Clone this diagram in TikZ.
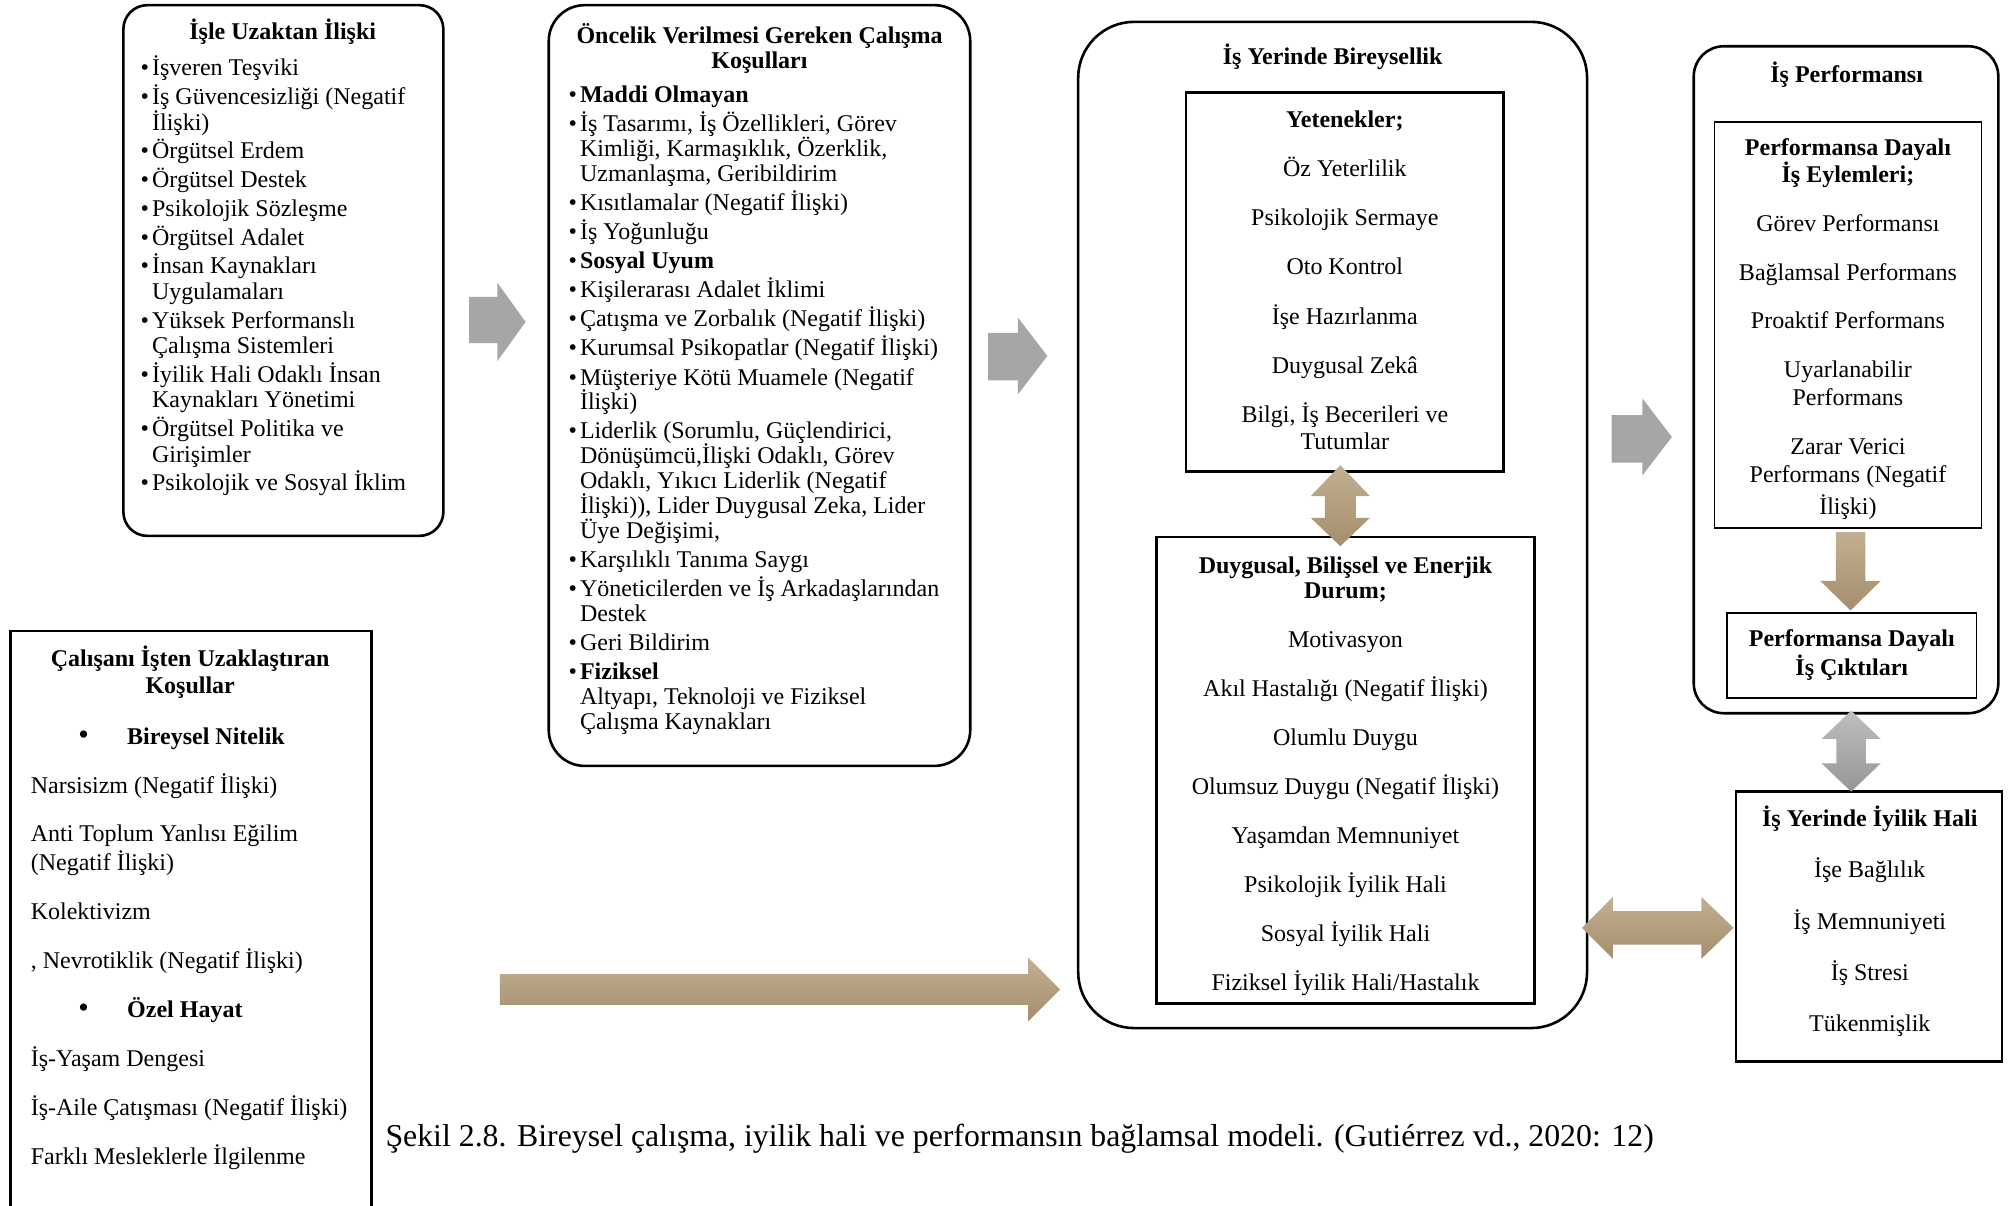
\documentclass[tikz,border=0pt]{standalone}
\usepackage{fontspec}
\setmainfont{Liberation Serif}
\usetikzlibrary{fit}
\definecolor{tanL}{RGB}{194,176,146}
\definecolor{tanD}{RGB}{164,142,108}
\definecolor{grayA}{RGB}{166,166,166}
\definecolor{grayL}{RGB}{190,190,190}
\definecolor{grayD}{RGB}{150,150,150}
\newcommand\bul{\textbullet\hspace{1.5pt}}
\newcommand\ind{\hphantom{\bul}}
\newcommand\li[1]{\hbox{#1}}
\newcommand\ci[1]{\hbox to 0pt{\hss#1\hss}}
\newcommand\sk[1]{\vskip#1\relax}
\newcommand\blk[2]{\vtop{\baselineskip=#1\lineskiplimit=-\maxdimen\lineskip=0pt\relax #2}}
\newcommand\bigbul{\makebox[24.4pt][l]{\fontsize{15}{15}\selectfont\textbullet}}
\begin{document}
\begin{tikzpicture}[x=0.64254pt,y=-0.64254pt,
  every node/.style={inner sep=0pt,outer sep=0pt,font=\fontsize{12}{14}\selectfont},
  sqbox/.style={draw,line width=1.3pt},
  rbox/.style={draw,line width=1.3pt,rounded corners=#1},
  garrow/.style={fill=grayA},
  tarrow/.style={top color=tanL,bottom color=tanD},
  gdarrow/.style={top color=grayL,bottom color=grayD}]
\useasboundingbox (0,0) rectangle (1568,938);
\fill[white] (0,0) rectangle (1568,938);

% ---------- frames ----------
\node[rbox=12pt, fit={(96,4)(345,417)}] (b1) {};
\node[rbox=18pt, fit={(427,4)(755,596)}] (b2) {};
\coordinate (b3bl) at (8,945);
\coordinate (b3tl) at (8,491);
\coordinate (b3tr) at (289,491);
\coordinate (b3br) at (289,945);
\draw[sqbox] (b3bl) -- (b3tl) -- (b3tr) -- (b3br);
\node[rbox=28pt, fit={(839,17)(1235,800)}] (b4) {};
\node[sqbox, fit={(923,72)(1170,367)}] (b4a) {};
\node[sqbox, fit={(900,418)(1194,781)}] (b4b) {};
\node[rbox=15pt, fit={(1318,36)(1555,555)}] (b5) {};
\node[draw, line width=0.7pt, fit={(1334,95)(1542,411)}] (b5a) {};
\node[draw, line width=0.9pt, fit={(1344,477)(1538,543)}] (b5b) {};
\node[sqbox, fit={(1351,616)(1558,826)}] (b6) {};

% ---------- block arrows ----------
\fill[garrow] (365,231) -- (387,231) -- (387,220) -- (409,250.5) -- (387,281) -- (387,267) -- (365,267) -- cycle;
\fill[garrow] (769,259) -- (792,259) -- (792,247) -- (815,277) -- (792,307) -- (792,296) -- (769,296) -- cycle;
\fill[garrow] (1254,323) -- (1278,323) -- (1278,310) -- (1301,340) -- (1278,370) -- (1278,360) -- (1254,360) -- cycle;
\path[tarrow] (389,758) -- (800,758) -- (800,745) -- (825,770) -- (800,795) -- (800,782) -- (389,782) -- cycle;
\path[tarrow] (1043,362) -- (1066,386) -- (1055,386) -- (1055,403) -- (1066,403) -- (1043,425) -- (1020,403) -- (1031,403) -- (1031,386) -- (1020,386) -- cycle;
\path[tarrow] (1428.5,414) -- (1451.5,414) -- (1451.5,452) -- (1463.5,452) -- (1440,475) -- (1416.5,452) -- (1428.5,452) -- cycle;
\path[gdarrow] (1440.5,553) -- (1463.5,575) -- (1452,575) -- (1452,594) -- (1463.5,594) -- (1440.5,616) -- (1417.5,594) -- (1429,594) -- (1429,575) -- (1417.5,575) -- cycle;
\path[tarrow] (1231,722) -- (1255,698) -- (1255,709) -- (1324,709) -- (1324,698) -- (1349,722) -- (1324,746) -- (1324,735) -- (1255,735) -- (1255,746) -- cycle;

% ---------- box 1 ----------
\node[anchor=base] (b1t) at (220,31) {\bfseries İşle Uzaktan İlişki};
\node[anchor=base west] (b1l) at (109.5,59) {\blk{12.72pt}{%
\li{\bul İşveren Teşviki}\sk{1.67pt}
\li{\bul İş Güvencesizliği (Negatif}
\li{\ind İlişki)}\sk{1.67pt}
\li{\bul Örgütsel Erdem}\sk{1.67pt}
\li{\bul Örgütsel Destek}\sk{1.67pt}
\li{\bul Psikolojik Sözleşme}\sk{1.67pt}
\li{\bul Örgütsel Adalet}\sk{1.67pt}
\li{\bul İnsan Kaynakları}
\li{\ind Uygulamaları}\sk{1.67pt}
\li{\bul Yüksek Performanslı}
\li{\ind Çalışma Sistemleri}\sk{1.67pt}
\li{\bul İyilik Hali Odaklı İnsan}
\li{\ind Kaynakları Yönetimi}\sk{1.67pt}
\li{\bul Örgütsel Politika ve}
\li{\ind Girişimler}\sk{1.67pt}
\li{\bul Psikolojik ve Sosyal İklim}}};

% ---------- box 2 ----------
\node[anchor=base] (b2t) at (591,34) {\blk{12.2pt}{\ci{\bfseries Öncelik Verilmesi Gereken Çalışma}\ci{\bfseries Koşulları}}};
\node[anchor=base west] (b2l) at (442.5,80) {\blk{12.47pt}{%
\li{\bul\textbf{Maddi Olmayan}}\sk{2.05pt}
\li{\bul İş Tasarımı, İş Özellikleri, Görev}
\li{\ind Kimliği, Karmaşıklık, Özerklik,}
\li{\ind Uzmanlaşma, Geribildirim}\sk{2.05pt}
\li{\bul Kısıtlamalar (Negatif İlişki)}\sk{2.05pt}
\li{\bul İş Yoğunluğu}\sk{2.05pt}
\li{\bul\textbf{Sosyal Uyum}}\sk{2.05pt}
\li{\bul Kişilerarası Adalet İklimi}\sk{2.05pt}
\li{\bul Çatışma ve Zorbalık (Negatif İlişki)}\sk{2.05pt}
\li{\bul Kurumsal Psikopatlar (Negatif İlişki)}\sk{2.05pt}
\li{\bul Müşteriye Kötü Muamele (Negatif}
\li{\ind İlişki)}\sk{2.05pt}
\li{\bul Liderlik (Sorumlu, Güçlendirici,}
\li{\ind Dönüşümcü,İlişki Odaklı, Görev}
\li{\ind Odaklı, Yıkıcı Liderlik (Negatif}
\li{\ind İlişki)), Lider Duygusal Zeka, Lider}
\li{\ind Üye Değişimi,}\sk{2.05pt}
\li{\bul Karşılıklı Tanıma Saygı}\sk{2.05pt}
\li{\bul Yöneticilerden ve İş Arkadaşlarından}
\li{\ind Destek}\sk{2.05pt}
\li{\bul Geri Bildirim}\sk{2.05pt}
\li{\bul\textbf{Fiziksel}}
\li{\ind Altyapı, Teknoloji ve Fiziksel}
\li{\ind Çalışma Kaynakları}}};

% ---------- box 3 ----------
\node[anchor=base] (b3t) at (148,519) {\blk{13.5pt}{\ci{\bfseries Çalışanı İşten Uzaklaştıran}\ci{\bfseries Koşullar}}};
\node[anchor=base west] (b3l) at (24,579) {\blk{14.14pt}{%
\li{\hspace{23.8pt}\bigbul\textbf{Bireysel Nitelik}}\sk{10.34pt}
\li{Narsisizm (Negatif İlişki)}\sk{10.34pt}
\li{Anti Toplum Yanlısı Eğilim}
\li{(Negatif İlişki)}\sk{10.34pt}
\li{Kolektivizm}\sk{10.34pt}
\li{, Nevrotiklik (Negatif İlişki)}\sk{10.34pt}
\li{\hspace{23.8pt}\bigbul\textbf{Özel Hayat}}\sk{10.34pt}
\li{İş-Yaşam Dengesi}\sk{10.34pt}
\li{İş-Aile Çatışması (Negatif İlişki)}\sk{10.34pt}
\li{Farklı Mesleklerle İlgilenme}}};

% ---------- box 4 ----------
\node[anchor=base] (b4t) at (1037,50) {\bfseries İş Yerinde Bireysellik};
\node[anchor=base] (b4at) at (1046.5,99) {\blk{13.49pt}{%
\ci{\bfseries Yetenekler;}\sk{11.12pt}
\ci{Öz Yeterlilik}\sk{11.12pt}
\ci{Psikolojik Sermaye}\sk{11.12pt}
\ci{Oto Kontrol}\sk{11.12pt}
\ci{İşe Hazırlanma}\sk{11.12pt}
\ci{Duygusal Zekâ}\sk{11.12pt}
\ci{Bilgi, İş Becerileri ve}
\ci{Tutumlar}}};
\node[anchor=base] (b4bt) at (1047,446) {\blk{12.85pt}{%
\ci{\bfseries Duygusal, Bilişsel ve Enerjik}
\ci{\bfseries Durum;}\sk{11.6pt}
\ci{Motivasyon}\sk{11.6pt}
\ci{Akıl Hastalığı (Negatif İlişki)}\sk{11.6pt}
\ci{Olumlu Duygu}\sk{11.6pt}
\ci{Olumsuz Duygu (Negatif İlişki)}\sk{11.6pt}
\ci{Yaşamdan Memnuniyet}\sk{11.6pt}
\ci{Psikolojik İyilik Hali}\sk{11.6pt}
\ci{Sosyal İyilik Hali}\sk{11.6pt}
\ci{Fiziksel İyilik Hali/Hastalık}}};

% ---------- box 5 ----------
\node[anchor=base] (b5t) at (1437,64) {\bfseries İş Performansı};
\node[anchor=base] (b5at) at (1438,121) {\blk{14.1pt}{%
\ci{\bfseries Performansa Dayalı}\sk{-0.6pt}
\ci{\bfseries İş Eylemleri;}\sk{10.3pt}
\ci{Görev Performansı}\sk{10.3pt}
\ci{Bağlamsal Performans}\sk{10.3pt}
\ci{Proaktif Performans}\sk{10.3pt}
\ci{Uyarlanabilir}
\ci{Performans}\sk{10.3pt}
\ci{Zarar Verici}
\ci{Performans (Negatif}\sk{1.9pt}
\ci{İlişki)}}};
\node[anchor=base] (b5bt) at (1441,503) {\blk{14.78pt}{\ci{\bfseries Performansa Dayalı}\ci{\bfseries İş Çıktıları}}};

% ---------- box 6 ----------
\node[anchor=base] (b6t) at (1455,643) {\blk{25.7pt}{%
\ci{\bfseries İş Yerinde İyilik Hali}
\ci{İşe Bağlılık}
\ci{İş Memnuniyeti}
\ci{İş Stresi}
\ci{Tükenmişlik}}};

% ---------- caption ----------
\node[anchor=base west, font=\fontsize{15.9}{18}\selectfont] (cap) at (300,892) {Şekil 2.8. Bireysel çalışma, iyilik hali ve performansın bağlamsal modeli. (Gutiérrez vd., 2020: 12)};
\end{tikzpicture}
\end{document}
